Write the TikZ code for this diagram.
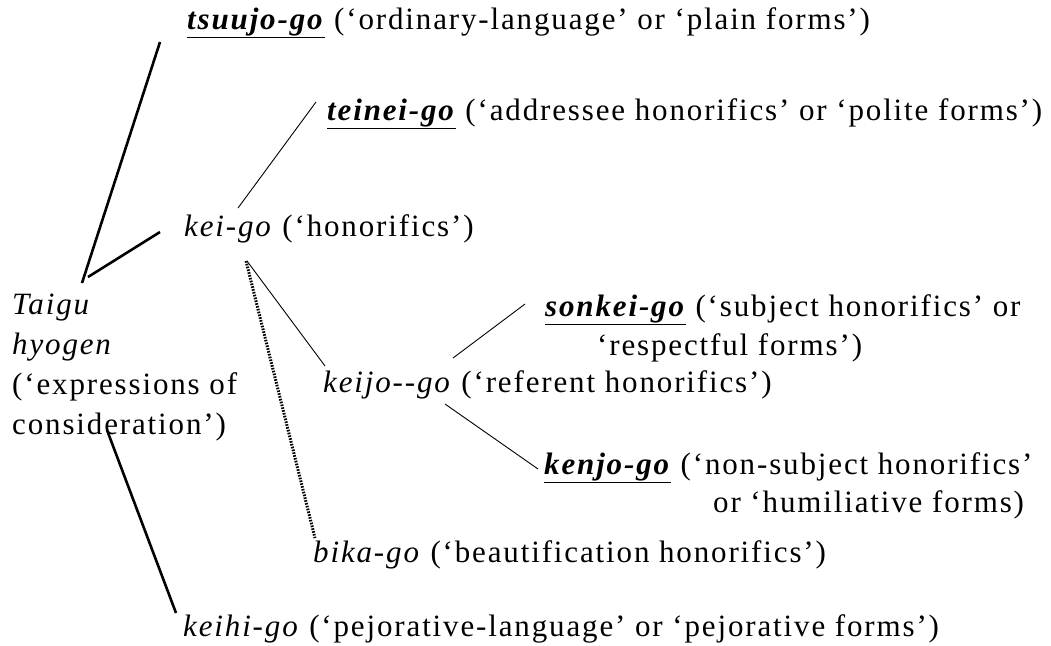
\documentclass[tikz,border=0pt]{standalone}
\usepackage{fontspec}
\setmainfont{Liberation Serif}[LetterSpace=6]
\newcommand{\term}[1]{\underline{\textbf{\textit{#1}}}}
\begin{document}
\begin{tikzpicture}[x=1pt,y=-1pt,
        lbl/.style={anchor=base west, inner sep=0pt, font=\fontsize{31}{37}\selectfont},
        thk/.style={line width=2.6pt},
        thn/.style={line width=0.9pt},
        dotline/.style={line width=3pt, dash pattern=on 1.6pt off 1.3pt}]
        \useasboundingbox (0,0) rectangle (1051,645);
        \node[lbl] (tsuujo) at (187,29) {\term{tsuujo-go} (`ordinary-language' or `plain forms')};
        \node[lbl] (teinei) at (327,120) {\term{teinei-go} (`addressee honorifics' or `polite forms')};
        \node[lbl] (kei) at (184,236) {\textit{kei-go} (`honorifics')};
        \node[lbl] (sonkei) at (545,316) {\term{sonkei-go} (`subject honorifics' or};
        \node[lbl] (sonkeib) at (597,355) {`respectful forms')};
        \node[lbl] (taigu) at (12,314) {\textit{Taigu}};
        \node[lbl] (hyogen) at (12,354) {\textit{hyogen}};
        \node[lbl] (expr) at (12,394) {(`expressions of};
        \node[lbl] (consid) at (12,434) {consideration')};
        \node[lbl] (keijo) at (323,392) {\textit{keijo-{}-go} (`referent honorifics')};
        \node[lbl] (kenjo) at (544,474) {\term{kenjo-go} (`non-subject honorifics'};
        \node[lbl] (kenjob) at (713,512) {or `humiliative forms)};
        \node[lbl] (bika) at (313,562) {\textit{bika-go} (`beautification honorifics')};
        \node[lbl] (keihi) at (183,636) {\textit{keihi-go} (`pejorative-language' or `pejorative forms')};
        \draw[thk] ([shift={(70,-31)}]taigu.base west) -- ([shift={(-27,13)}]tsuujo.base west);
        \draw[thk] ([shift={(76,-37)}]taigu.base west) -- ([shift={(-24,-4)}]kei.base west);
        \draw[thk] ([shift={(95,-4)}]consid.base west) -- ([shift={(-7,-23)}]keihi.base west);
        \draw[thn] ([shift={(54,-28)}]kei.base west) -- ([shift={(-11,-18)}]teinei.base west);
        \draw[thn] ([shift={(63,25)}]kei.base west) -- ([shift={(2,-26)}]keijo.base west);
        \draw[dotline] ([shift={(62,25)}]kei.base west) -- ([shift={(2,-24)}]bika.base west);
        \draw[thn] ([shift={(130,-34)}]keijo.base west) -- ([shift={(-20,-12)}]sonkei.base west);
        \draw[thn] ([shift={(122,12)}]keijo.base west) -- ([shift={(-6,-5)}]kenjo.base west);
\end{tikzpicture}
\end{document}
